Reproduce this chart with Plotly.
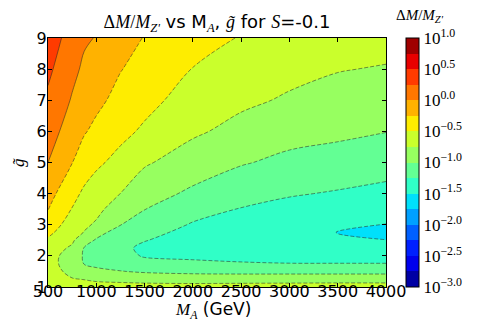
import numpy as np
import plotly.graph_objects as go

# grid: log10(dM/M_Z') at each (M_A, g~) node
ma_gev = [500, 750, 875, 1000, 1250, 1500, 2000, 2500, 3000, 3500, 4000]
g_tilde = [1, 1.25, 1.5, 1.75, 2, 2.25, 2.5, 2.75, 3, 3.5, 4, 5, 6, 7, 8, 9]

# one list per M_A column, values going up in g~
log_ratio_by_ma = [
    [-0.60, -0.64, -0.67, -0.68, -0.67, -0.62, -0.53, -0.45, -0.38, -0.24, -0.16, 0.0, 0.11, 0.205, 0.30, 0.39],
    [-0.66, -0.74, -0.80, -0.84, -0.84, -0.79, -0.71, -0.65, -0.60, -0.51, -0.43, -0.245, -0.12, -0.02, 0.06, 0.14],
    [-0.68, -0.755, -0.90, -1.01, -1.03, -1.01, -0.92, -0.76, -0.71, -0.62, -0.54, -0.38, -0.23, -0.12, -0.04, 0.03],
    [-0.68, -0.78, -0.94, -1.06, -1.09, -1.07, -1.02, -0.93, -0.78, -0.69, -0.61, -0.46, -0.31, -0.19, -0.09, -0.01],
    [-0.68, -0.80, -0.99, -1.11, -1.17, -1.19, -1.16, -1.09, -0.995, -0.87, -0.752, -0.57, -0.44, -0.33, -0.24, -0.16],
    [-0.67, -0.83, -1.03, -1.17, -1.27, -1.30, -1.24, -1.17, -1.11, -0.995, -0.91, -0.72, -0.535, -0.43, -0.34, -0.26],
    [-0.66, -0.86, -1.06, -1.20, -1.30, -1.35, -1.36, -1.33, -1.27, -1.16, -1.04, -0.88, -0.71, -0.60, -0.505, -0.43],
    [-0.65, -0.86, -1.07, -1.23, -1.32, -1.38, -1.40, -1.39, -1.36, -1.26, -1.17, -0.98, -0.83, -0.70, -0.60, -0.51],
    [-0.64, -0.86, -1.07, -1.245, -1.33, -1.40, -1.43, -1.43, -1.41, -1.32, -1.23, -1.06, -0.91, -0.78, -0.68, -0.59],
    [-0.63, -0.86, -1.07, -1.245, -1.34, -1.42, -1.47, -1.505, -1.45, -1.36, -1.27, -1.10, -0.95, -0.83, -0.74, -0.65],
    [-0.63, -0.86, -1.07, -1.245, -1.35, -1.43, -1.495, -1.56, -1.505, -1.40, -1.32, -1.14, -0.995, -0.87, -0.765, -0.67],
]

cbar_ticks = [1.0, 0.5, 0.0, -0.5, -1.0, -1.5, -2.0, -2.5, -3.0]
x_ticks = [500, 1000, 1500, 2000, 2500, 3000, 3500, 4000]
y_ticks = [1, 2, 3, 4, 5, 6, 7, 8, 9]

z = np.array(log_ratio_by_ma).T


def jet(t):
    # matplotlib 'jet', 256-entry lookup
    k = min(int(t * 256), 255) / 255
    r = np.interp(k, [0, 0.35, 0.66, 0.89, 1], [0, 0, 1, 1, 0.5])
    g = np.interp(k, [0, 0.125, 0.375, 0.64, 0.91, 1], [0, 0, 1, 1, 0, 0])
    b = np.interp(k, [0, 0.11, 0.34, 0.65, 1], [0.5, 1, 1, 0, 0])
    return 'rgb(%d,%d,%d)' % (round(r * 255), round(g * 255), round(b * 255))


n_bands = 16
steps = []
for i in range(n_bands):
    c = jet((i + 0.5) / n_bands)
    steps.append([i / n_bands, c])
    steps.append([(i + 1) / n_bands, c])


def m(s):
    return f'<span style="font-family:Liberation Serif"><i>{s}</i></span>'


def rm(s):
    return f'<span style="font-family:Liberation Serif">{s}</span>'


def cb_label(v):
    e = ('%.1f' % v).replace('-', '\u2212')
    return f'10<sup>{e}</sup>'


fig = go.Figure()
fig.add_trace(go.Contour(
    x=ma_gev, y=g_tilde, z=z,
    zmin=-3, zmax=1, autocontour=False,
    contours=dict(start=-3, end=1, size=0.25, coloring='fill', showlines=False),
    colorscale=steps, line_width=0, hoverinfo='skip', showlegend=False,
    colorbar=dict(
        x=(398 - 40) / 338, xanchor='left', xpad=0, ypad=0,
        y=0.5, yanchor='middle', len=1, thickness=13,
        outlinewidth=1, outlinecolor='black',
        tickvals=cbar_ticks, ticktext=[cb_label(v) for v in cbar_ticks],
        ticks='', tickfont=dict(family='Liberation Serif', size=17, color='black'),
    ),
))
# negative levels dashed, non-negative solid (matplotlib style)
fig.add_trace(go.Contour(
    x=ma_gev, y=g_tilde, z=z, autocontour=False, showscale=False, hoverinfo='skip',
    showlegend=False,
    contours=dict(start=-2.75, end=-0.25, size=0.25, coloring='none'),
    line=dict(color='rgba(40,40,40,0.6)', width=0.9, dash='4px,2px'),
))
fig.add_trace(go.Contour(
    x=ma_gev, y=g_tilde, z=z, autocontour=False, showscale=False, hoverinfo='skip',
    showlegend=False,
    contours=dict(start=0, end=0.75, size=0.25, coloring='none'),
    line=dict(color='rgba(40,40,40,0.6)', width=0.9),
))

axis_common = dict(
    showline=True, linecolor='black', linewidth=1, mirror='ticks',
    ticks='inside', ticklen=4, tickcolor='black',
    showgrid=False, zeroline=False,
    tickfont=dict(family='DejaVu Sans', size=16, color='black'),
)
fig.update_xaxes(range=[500, 4000], tickvals=x_ticks, ticklabelstandoff=-10, **axis_common)
fig.update_yaxes(range=[1, 9], tickvals=y_ticks, ticklabelstandoff=-3, **axis_common)

title = (f"{rm('Δ')}{m('M')}{rm('/')}{m('M')}<sub>{m(chr(90) + chr(39))}</sub> vs M<sub>{m('A')}</sub>, "
         f"{m('g̃')} for {m('S')}=-0.1")

fig.update_layout(
    width=491, height=327,
    margin=dict(l=40, r=113, t=30, b=48),
    paper_bgcolor='white', plot_bgcolor='white',
    showlegend=False,
    font=dict(family='DejaVu Sans', size=16, color='black'),
    title=dict(text=title, x=(209 / 491), xanchor='center', y=1 - 14 / 327, yanchor='middle',
               font=dict(size=18)),
    annotations=[
        dict(text=f"{m('M')}<sub>{m('A')}</sub> (GeV)", xref='paper', yref='paper',
             x=(205 - 40) / 338, y=(279 - 302) / 249, xanchor='center', yanchor='middle',
             showarrow=False, font=dict(size=17)),
        dict(text=m('g̃'), xref='paper', yref='paper', textangle=-90,
             x=(10 - 40) / 338, y=(279 - 155) / 249, xanchor='center', yanchor='middle',
             showarrow=False, font=dict(size=17)),
        dict(text=f"{rm('Δ')}{m('M')}{rm('/')}{m('M')}<sub>{m(chr(90) + chr(39))}</sub>",
             xref='paper', yref='paper', x=(412 - 40) / 338, y=(279 - 8) / 249,
             xanchor='center', yanchor='middle', showarrow=False, font=dict(size=15)),
    ],
)

fig.write_html("out.html")
